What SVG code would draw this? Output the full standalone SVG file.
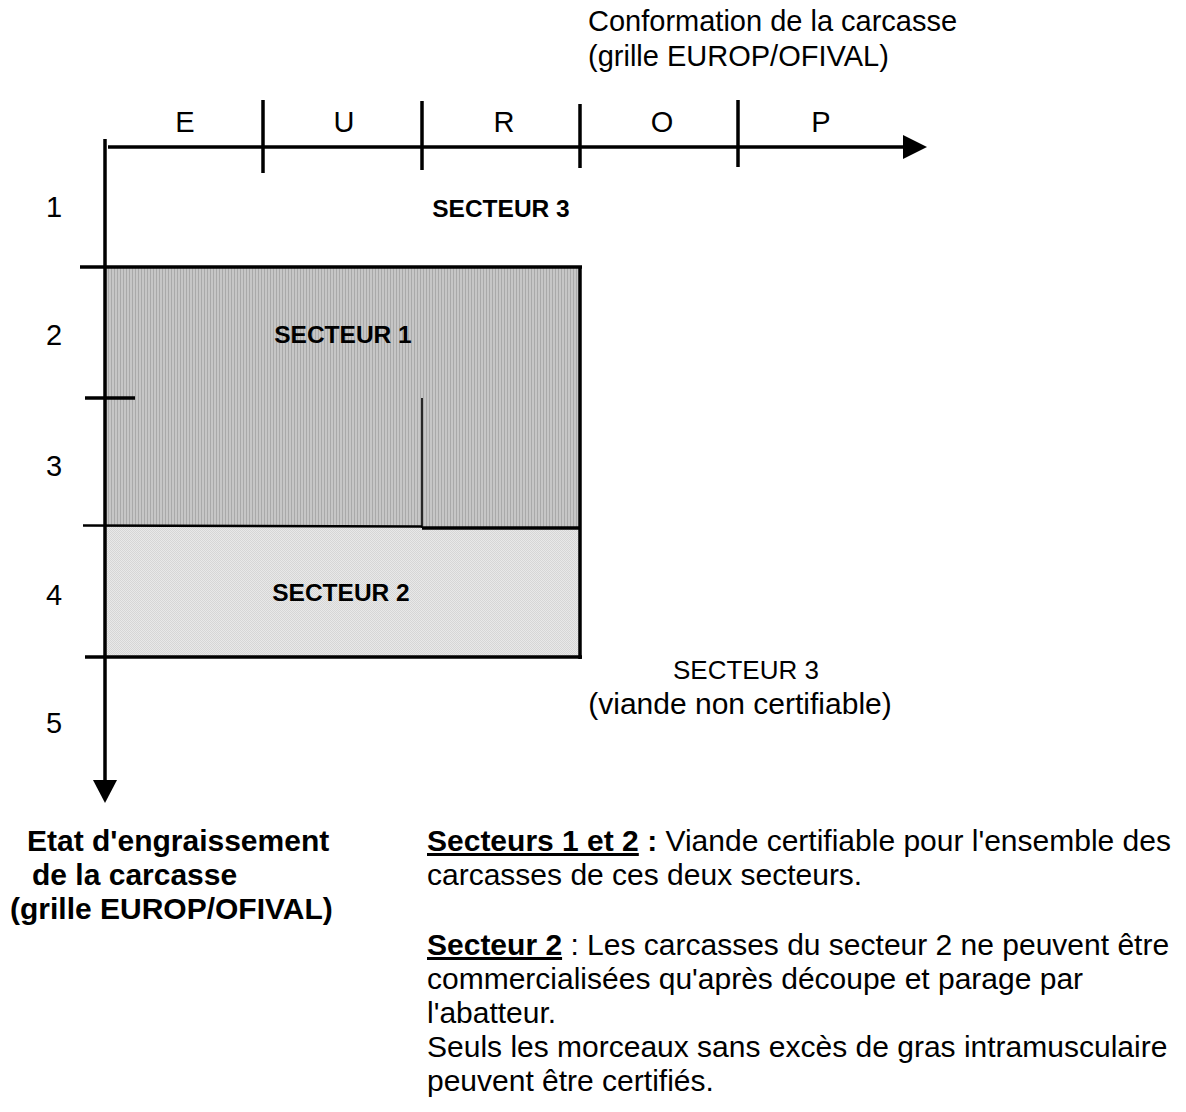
<svg xmlns="http://www.w3.org/2000/svg" width="1186" height="1112" viewBox="0 0 1186 1112">
  <style>
    text { font-family: "Liberation Sans", Arial, sans-serif; fill: #000; }
    .title { font-size: 29px; }
    .lab { font-size: 29px; text-anchor: middle; }
    .sect { font-size: 24.5px; font-weight: bold; text-anchor: middle; }
    .bold30 { font-size: 30px; font-weight: bold; }
    .para { font-size: 30px; }
    .ax { stroke: #000; stroke-width: 3.5; fill: none; }
    .thin { stroke: #000; stroke-width: 1.6; fill: none; }
  </style>
  <defs>
    <pattern id="vstripe" width="3" height="4" patternUnits="userSpaceOnUse">
      <rect width="3" height="4" fill="#c6c6c6"/>
      <rect width="1" height="4" fill="#a9a9a9"/>
    </pattern>
    <pattern id="dots" width="2" height="2" patternUnits="userSpaceOnUse">
      <rect width="2" height="2" fill="#e9e9e9"/>
      <rect width="1" height="1" fill="#d6d6d6"/>
      <rect x="1" y="1" width="1" height="1" fill="#d6d6d6"/>
    </pattern>
  </defs>

  <rect x="0" y="0" width="1186" height="1112" fill="#fff"/>

  <!-- sectors -->
  <g id="secteur1">
    <rect x="105" y="267" width="475" height="260" fill="url(#vstripe)"/>
    <text class="sect" x="343" y="343">SECTEUR 1</text>
  </g>
  <g id="secteur2">
    <rect x="105" y="527" width="475" height="130" fill="url(#dots)"/>
    <text class="sect" x="341" y="601">SECTEUR 2</text>
  </g>
  <g id="secteur3-haut">
    <text class="sect" x="501" y="217">SECTEUR 3</text>
  </g>
  <g id="secteur3-bas">
    <text x="746" y="679" style="font-size:26px; text-anchor:middle">SECTEUR 3</text>
    <text x="740" y="714" style="font-size:30px; text-anchor:middle">(viande non certifiable)</text>
  </g>

  <!-- lines / axes -->
  <g id="connectors">
    <!-- vertical axis -->
    <line class="ax" x1="105" y1="139" x2="105" y2="782"/>
    <polygon points="93,780 117,780 105,803" fill="#000"/>
    <!-- horizontal axis -->
    <line class="ax" x1="108" y1="147" x2="905" y2="147"/>
    <polygon points="903,135 903,159 927,147" fill="#000"/>
    <!-- ticks top -->
    <line class="ax" x1="263" y1="100" x2="263" y2="173"/>
    <line class="ax" x1="422" y1="101" x2="422" y2="170"/>
    <line class="ax" x1="580" y1="104" x2="580" y2="168"/>
    <line class="ax" x1="738" y1="100" x2="738" y2="167"/>
    <!-- sector borders -->
    <line class="ax" x1="80" y1="267" x2="582" y2="267"/>
    <line class="ax" x1="580" y1="267" x2="580" y2="659"/>
    <line class="ax" x1="85" y1="657" x2="582" y2="657"/>
    <line class="ax" x1="85" y1="398" x2="135" y2="398"/>
    <line x1="83" y1="525.5" x2="422" y2="526.5" stroke="#000" stroke-width="2.6"/>
    <line class="ax" x1="422" y1="528" x2="580" y2="528"/>
    <line class="thin" x1="422" y1="398" x2="422" y2="528"/>
  </g>

  <!-- axis labels -->
  <g id="conformation">
    <text class="title" x="588" y="31">Conformation de la carcasse</text>
    <text class="title" x="588" y="66">(grille EUROP/OFIVAL)</text>
    <text class="lab" x="185" y="132">E</text>
    <text class="lab" x="344" y="132">U</text>
    <text class="lab" x="504" y="132">R</text>
    <text class="lab" x="662" y="132">O</text>
    <text class="lab" x="821" y="132">P</text>
  </g>
  <g id="engraissement">
    <text class="lab" x="54" y="217">1</text>
    <text class="lab" x="54" y="345">2</text>
    <text class="lab" x="54" y="476">3</text>
    <text class="lab" x="54" y="605">4</text>
    <text class="lab" x="54" y="733">5</text>
    <text class="bold30" x="27" y="851">Etat d'engraissement</text>
    <text class="bold30" x="32" y="885">de la carcasse</text>
    <text class="bold30" x="10" y="919">(grille EUROP/OFIVAL)</text>
  </g>

  <!-- legend -->
  <g id="legende">
    <text class="para" x="427" y="851"><tspan font-weight="bold" text-decoration="underline">Secteurs 1 et 2</tspan><tspan font-weight="bold"> :</tspan> Viande certifiable pour l'ensemble des</text>
    <text class="para" x="427" y="885">carcasses de ces deux secteurs.</text>
    <text class="para" x="427" y="955"><tspan font-weight="bold" text-decoration="underline">Secteur 2</tspan> : Les carcasses du secteur 2 ne peuvent être</text>
    <text class="para" x="427" y="989">commercialisées qu'après découpe et parage par</text>
    <text class="para" x="427" y="1023">l'abatteur.</text>
    <text class="para" x="427" y="1057">Seuls les morceaux sans excès de gras intramusculaire</text>
    <text class="para" x="427" y="1091">peuvent être certifiés.</text>
  </g>
</svg>
